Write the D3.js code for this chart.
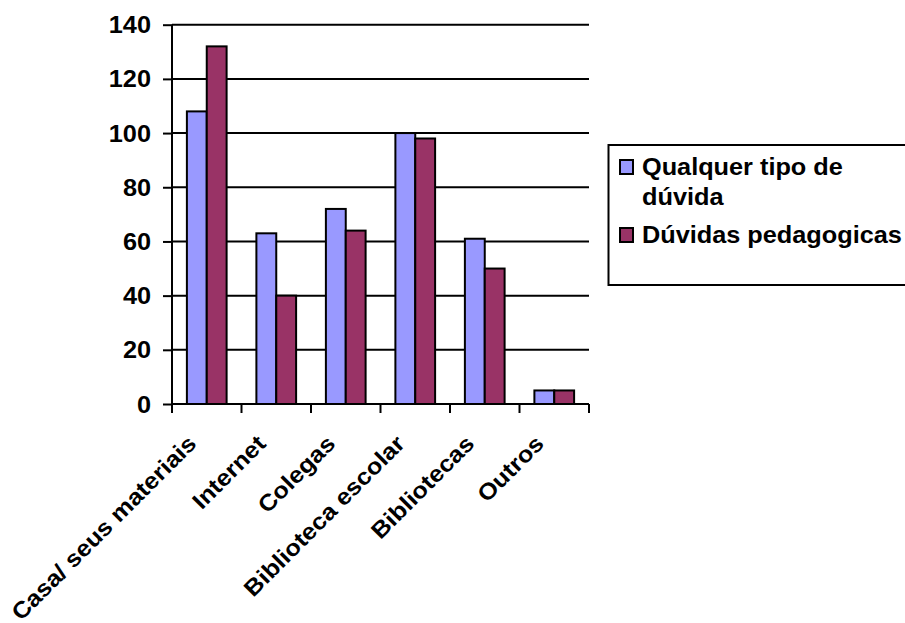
<!DOCTYPE html>
<html>
<head>
<meta charset="utf-8">
<script src="https://cdn.jsdelivr.net/npm/d3@7"></script>
<style>
  body { margin: 0; background: #fff; }
  svg text { font-family: Arial, "Liberation Sans", sans-serif; font-weight: bold; fill: #000; }
</style>
</head>
<body>
<div id="chart"></div>
<script>
// data
var categories = ['Casa/ seus materiais', 'Internet', 'Colegas', 'Biblioteca escolar', 'Bibliotecas', 'Outros'];
var seriesNames = ['Qualquer tipo de dúvida', 'Dúvidas pedagogicas'];
var qualquer = [108, 63, 72, 100, 61, 5];
var pedagogicas = [132, 40, 64, 98, 50, 5];
var yTicks = [0, 20, 40, 60, 80, 100, 120, 140];
var colors = ['#9999FF', '#993366'];

var width = 905, height = 623;
var plotLeft = 172, plotRight = 589, plotTop = 24.7, plotBottom = 404;
var stretch = 'scale(1.1,1)';

var svg = d3.select('#chart').append('svg').attr('width', width).attr('height', height);

var x = d3.scaleBand().domain(categories).range([plotLeft, plotRight]).paddingInner(0).paddingOuter(0);
var bw = x.bandwidth() / 3.5;
var x1 = d3.scaleBand().domain(seriesNames).range([bw * 0.75, bw * 2.75]).padding(0);
var y = d3.scaleLinear().domain([0, 140]).range([plotBottom, plotTop]);

// gridlines
svg.append('g').selectAll('line')
    .data(yTicks.slice(1))
    .enter().append('line')
    .attr('x1', plotLeft).attr('x2', plotRight)
    .attr('y1', function (d) { return y(d); })
    .attr('y2', function (d) { return y(d); })
    .attr('stroke', '#000').attr('stroke-width', 2);

// bars
var rows = categories.map(function (c, i) { return { cat: c, vals: [qualquer[i], pedagogicas[i]] }; });
var groups = svg.append('g').selectAll('g')
    .data(rows)
    .enter().append('g')
    .attr('transform', function (d) { return 'translate(' + x(d.cat) + ',0)'; });

groups.selectAll('rect')
    .data(function (d) { return d.vals.map(function (v, j) { return { s: seriesNames[j], v: v, j: j }; }); })
    .enter().append('rect')
    .attr('x', function (d) { return x1(d.s); })
    .attr('width', x1.bandwidth())
    .attr('y', function (d) { return y(d.v); })
    .attr('height', function (d) { return plotBottom - y(d.v); })
    .attr('fill', function (d) { return colors[d.j]; })
    .attr('stroke', '#000').attr('stroke-width', 2);

// y axis
var yAxis = svg.append('g')
    .attr('transform', 'translate(' + plotLeft + ',0)')
    .call(d3.axisLeft(y).tickValues(yTicks).tickSize(9).tickFormat(d3.format('d')));
yAxis.select('.domain').attr('stroke', '#000').attr('stroke-width', 2).attr('d', 'M0,' + plotTop + 'V' + plotBottom);
yAxis.selectAll('.tick line').attr('stroke', '#000').attr('stroke-width', 2);
yAxis.selectAll('.tick text').remove();
yAxis.selectAll('.tick').append('text')
    .attr('transform', 'translate(-21,8) ' + stretch)
    .attr('text-anchor', 'end')
    .style('font-size', '23px')
    .text(function (d) { return d; });

// x axis line and ticks at category boundaries
svg.append('line')
    .attr('x1', plotLeft).attr('x2', plotRight)
    .attr('y1', plotBottom).attr('y2', plotBottom)
    .attr('stroke', '#000').attr('stroke-width', 2);
var bounds = categories.map(function (c) { return x(c); }).concat([plotRight]);
svg.append('g').selectAll('line')
    .data(bounds)
    .enter().append('line')
    .attr('x1', function (d) { return d; }).attr('x2', function (d) { return d; })
    .attr('y1', plotBottom).attr('y2', plotBottom + 9)
    .attr('stroke', '#000').attr('stroke-width', 2);

// rotated category labels
svg.append('g').selectAll('text')
    .data(categories)
    .enter().append('text')
    .attr('transform', function (d) {
        return 'translate(' + (x(d) + x.bandwidth() / 2 - 9) + ',' + (plotBottom + 41) + ') rotate(-45) ' + stretch;
    })
    .attr('text-anchor', 'end')
    .style('font-size', '23px')
    .text(function (d) { return d; });

// legend
var legend = svg.append('g');
legend.append('rect')
    .attr('x', 608.5).attr('y', 145).attr('width', 320).attr('height', 140)
    .attr('fill', '#fff').attr('stroke', '#000').attr('stroke-width', 2);

var legendLines = [
    { lines: ['Qualquer tipo de', 'dúvida'], y: 175 },
    { lines: ['Dúvidas pedagogicas'], y: 243 }
];
legendLines.forEach(function (item, i) {
    legend.append('rect')
        .attr('x', 620).attr('y', item.y - 15).attr('width', 13).attr('height', 14)
        .attr('fill', colors[i]).attr('stroke', '#000').attr('stroke-width', 2);
    item.lines.forEach(function (t, k) {
        legend.append('text')
            .attr('transform', 'translate(642,' + (item.y + k * 30) + ') ' + stretch)
            .style('font-size', '23px')
            .text(t);
    });
});
</script>
</body>
</html>
